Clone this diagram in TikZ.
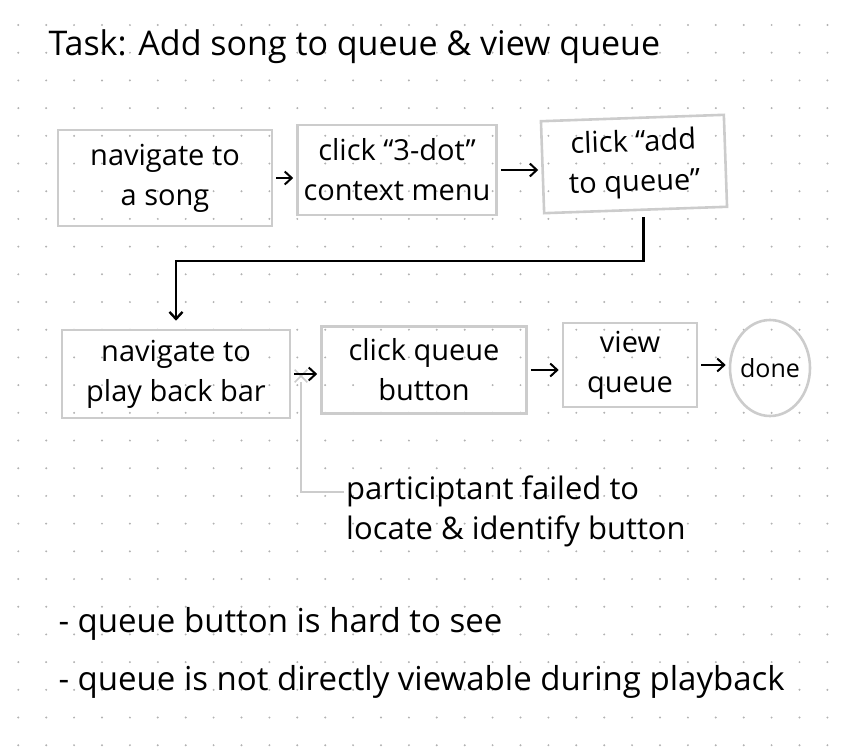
\documentclass[tikz,border=0pt]{standalone}
\usepackage{fontspec}
\setmainfont{Open Sans}
\usepackage{xcolor}
\usetikzlibrary{shapes,arrows.meta,positioning,calc}

\tikzset{
    box/.style={draw=black!20, line width=2.6pt, align=center, inner sep=2pt},
    arr/.style={->, black, line width=2pt, shorten <=3pt, shorten >=3pt},
    note/.style={anchor=base west, align=left, font=\fontsize{33}{40}\selectfont}
}

\begin{document}
\begin{tikzpicture}[x=1pt, y=-1pt, >={Straight Barb[length=7pt,width=13pt]},
    font=\fontsize{29}{40}\selectfont]
    \useasboundingbox (0,0) rectangle (847,755);

    % Dots
    \foreach \i in {0,1,...,29} {
        \foreach \j in {0,1,...,26} {
            \fill[black!30] (18.3+27.9*\i, 25+27.7*\j) circle[radius=1.1];
        }
    }

    % Title
    \node[note, font=\fontsize{34}{40}\selectfont] (task) at (45,55) {Task: Add song to queue \& view queue};

    % First row
    \node[box, minimum width=214, minimum height=96] (nav) at (165,178) {navigate to\\a song};
    \node[box, minimum width=199, minimum height=90] (dots) at (397,170) {click ``3-dot''\\context menu};
    \node[box, minimum width=183, minimum height=92, rotate=2] (add) at (634,164) {click ``add\\to queue''};
    \draw[arr] (nav) -- (nav -| dots.west);
    \draw[arr] (dots) -- (dots -| add.west);

    % Second row
    \node[box, minimum width=228, minimum height=88] (bar) at (176,374) {navigate to\\play back bar};
    \node[box, minimum width=205, minimum height=87] (qbtn) at (424,370) {click queue\\button};
    \node[box, minimum width=134, minimum height=84] (view) at (630,365) {view\\queue};
    \node[ellipse, draw=black!20, line width=2.6pt, minimum width=80, minimum height=96,
        inner xsep=-10pt, inner ysep=0pt, font=\fontsize{25}{30}\selectfont] (done) at (770,368) {done};

    % Turn down to second row
    \draw[arr, line width=2.4pt, shorten <=6pt, shorten >=8pt]
        ([xshift=8]add.south) -- ++(0,50) -| (bar.north);

    % Failed step
    \node[cross out, draw=black!20, line width=1.6pt, minimum size=11] (mark) at (301,376) {};
    \node[anchor=north west, align=left, inner sep=2pt, font=\fontsize{31}{40}\selectfont] (fail) at (344,474)
        {participtant failed to\\locate \& identify button};
    \draw[black!20, line width=2pt] (mark.south) |- ([yshift=20pt]fail.west);

    \draw[arr] (bar) -- (bar -| qbtn.west);
    \draw[arr] (qbtn) -- (qbtn -| view.west);
    \draw[arr] (view) -- (view -| done.west);

    % Notes
    \node[note] (hard) at (55,632) {- queue button is hard to see};
    \node[note] (hidden) at (55,690) {- queue is not directly viewable during playback};

\end{tikzpicture}
\end{document}
